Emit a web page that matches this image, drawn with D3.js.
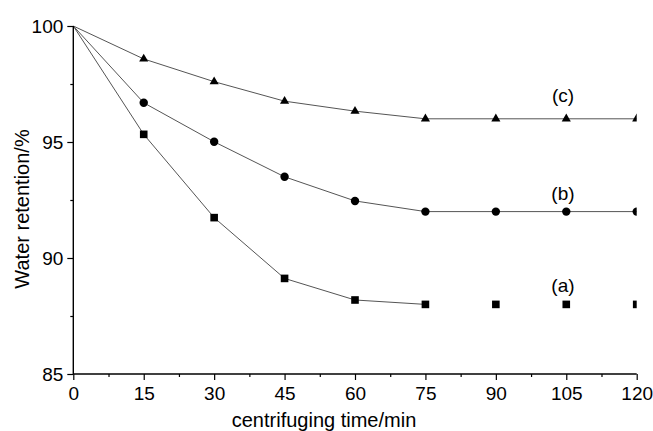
<!DOCTYPE html>
<html>
<head>
<meta charset="utf-8">
<script src="https://cdn.jsdelivr.net/npm/d3@7"></script>
<style>
  html, body { margin: 0; padding: 0; background: #fff; }
  svg { display: block; font-family: "Liberation Sans", Arial, sans-serif; }
</style>
</head>
<body>
<svg id="chart" width="653" height="431"></svg>
<script>
// Centrifuging time (min) and water retention (%) for three samples
const times = [0, 15, 30, 45, 60, 75, 90, 105, 120];
const seriesA = [100, 95.33, 91.74, 89.12, 88.19, 88.0, 88.0, 88.0, 88.0];
const seriesB = [100, 96.69, 95.01, 93.5, 92.46, 92.0, 92.0, 92.0, 92.0];
const seriesC = [100, 98.58, 97.6, 96.76, 96.33, 96.0, 96.0, 96.0, 96.0];
// the (a) line is drawn only up to 75 min
const lineEndA = 75;
const xTicks = [0, 15, 30, 45, 60, 75, 90, 105, 120];
const yTicks = [85, 90, 95, 100];
const seriesLabels = ["(a)", "(b)", "(c)"];
const labelPos = [[104.3, 88.84], [104.3, 92.8], [104.3, 97.03]];

const svg = d3.select("#chart");
const x = d3.scaleLinear().domain([0, 120]).range([73.3, 636.7]);
const y = d3.scaleLinear().domain([85, 100]).range([374, 26]);

svg.append("defs").append("clipPath").attr("id", "plotClip")
  .append("rect").attr("x", 0).attr("y", 0)
  .attr("width", x(120)).attr("height", 431);

const plot = svg.append("g").attr("clip-path", "url(#plotClip)");

const line = d3.line().x(d => x(d[0])).y(d => y(d[1]));
const ptsA = times.map((t, i) => [t, seriesA[i]]);
const ptsB = times.map((t, i) => [t, seriesB[i]]);
const ptsC = times.map((t, i) => [t, seriesC[i]]);

[ptsA.filter(d => d[0] <= lineEndA), ptsB, ptsC].forEach(p => {
  plot.append("path").attr("d", line(p))
    .attr("fill", "none").attr("stroke", "#555").attr("stroke-width", 1);
});

// markers
plot.selectAll(".sq").data(ptsA.slice(1)).enter().append("rect")
  .attr("x", d => x(d[0]) - 3.8).attr("y", d => y(d[1]) - 3.8)
  .attr("width", 7.6).attr("height", 7.6).attr("fill", "#000");
plot.selectAll(".ci").data(ptsB.slice(1)).enter().append("circle")
  .attr("cx", d => x(d[0])).attr("cy", d => y(d[1])).attr("r", 4.2)
  .attr("fill", "#000");
const tri = d3.symbol().type(d3.symbolTriangle).size(36);
plot.selectAll(".tr").data(ptsC.slice(1)).enter().append("path")
  .attr("d", tri)
  .attr("transform", d => `translate(${x(d[0])},${y(d[1])})`)
  .attr("fill", "#000");

// axes
const xAxis = d3.axisBottom(x).tickValues(xTicks).tickSize(6).tickPadding(7).tickFormat(d3.format("d"));
const xMinor = d3.axisBottom(x).tickValues(d3.range(7.5, 120, 15)).tickSize(3).tickFormat("");
const yAxis = d3.axisLeft(y).tickValues(yTicks).tickSize(6).tickPadding(4).tickFormat(d3.format("d"));
const yMinor = d3.axisLeft(y).tickValues([87.5, 92.5, 97.5]).tickSize(3).tickFormat("");

function styleAxis(g, fs) {
  g.select(".domain").attr("stroke", "#000").attr("stroke-width", 1.4);
  g.selectAll(".tick line").attr("stroke", "#000").attr("stroke-width", 1.2);
  g.selectAll(".tick text").attr("fill", "#000").style("font-size", fs + "px")
    .style("font-family", '"Liberation Sans", Arial, sans-serif');
}

const gx = svg.append("g").attr("transform", `translate(0,${y(85)})`).call(xAxis);
styleAxis(gx, 19);
gx.select(".domain").attr("d", `M${x(0)},0H${x(120)}`);
const gxm = svg.append("g").attr("transform", `translate(0,${y(85)})`).call(xMinor);
styleAxis(gxm, 19); gxm.select(".domain").remove();

const gy = svg.append("g").attr("transform", `translate(${x(0)},0)`).call(yAxis);
styleAxis(gy, 19);
gy.select(".domain").attr("d", `M0,${y(85)}V${y(100)}`);
const gym = svg.append("g").attr("transform", `translate(${x(0)},0)`).call(yMinor);
styleAxis(gym, 19); gym.select(".domain").remove();

// axis titles
svg.append("text").attr("x", 324).attr("y", 427).attr("text-anchor", "middle")
  .style("font-size", "20px").attr("fill", "#000").text("centrifuging time/min");
svg.append("text").attr("transform", "translate(29,209) rotate(-90)")
  .attr("text-anchor", "middle").style("font-size", "20px").attr("fill", "#000")
  .text("Water retention/%");

// series labels
svg.selectAll(".lbl").data(seriesLabels).enter().append("text")
  .attr("x", (d, i) => x(labelPos[i][0])).attr("y", (d, i) => y(labelPos[i][1]))
  .attr("dy", "0.35em").attr("text-anchor", "middle")
  .style("font-size", "19px").attr("fill", "#000").text(d => d);
</script>
</body>
</html>
